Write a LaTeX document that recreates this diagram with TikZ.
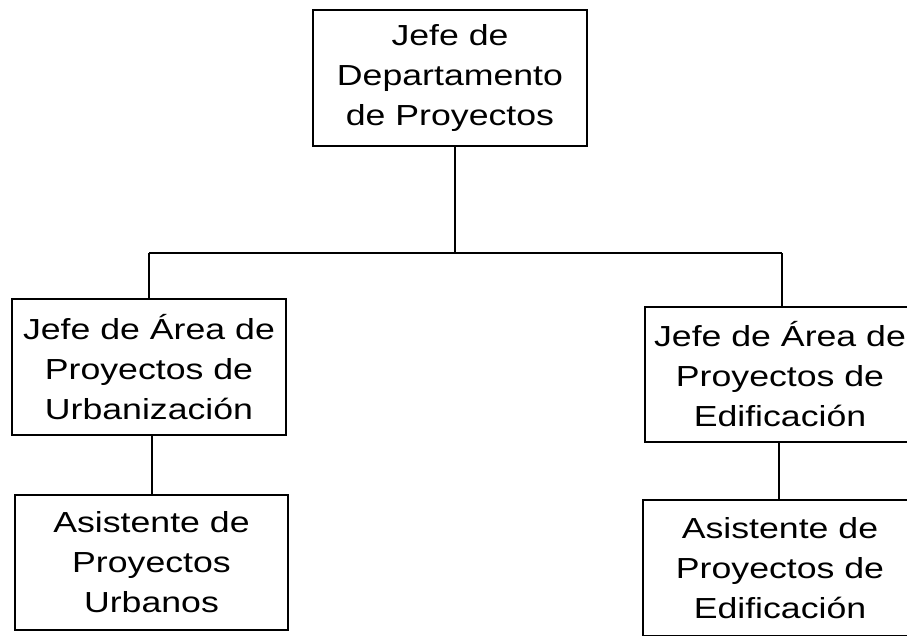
\documentclass[tikz,border=0pt]{standalone}
\usepackage{fontspec}
\setmainfont{Liberation Sans}[FakeStretch=1.23]
\begin{document}
\begin{tikzpicture}[x=1pt,y=-1pt,
  box/.style={draw=black,line width=1.6pt,rectangle,inner sep=0pt,
    minimum width=274pt,minimum height=136pt,align=center,
    font=\fontsize{29}{40}\selectfont},
  conn/.style={draw=black,line width=1.6pt}]
\useasboundingbox (0,0) rectangle (907,635);
\clip (0,0) rectangle (907,635);
\fill[white] (0,0) rectangle (907,635);
\node[box] (top) at (450,78) {Jefe de\\Departamento\\de Proyectos};
\node[box] (l1) at (149,367) {Jefe de Área de\\Proyectos de\\Urbanización};
\node[box,minimum width=273pt,minimum height=135pt] (l2) at (151.5,562.5) {Asistente de\\Proyectos\\Urbanos};
\node[box,minimum width=270pt,minimum height=135pt] (r1) at (780,374.5) {Jefe de Área de\\Proyectos de\\Edificación};
\node[box] (r2) at (780,568) {Asistente de\\Proyectos de\\Edificación};
\coordinate (j) at (455,253);
\coordinate (jl) at (149,253);
\coordinate (jr) at (782,253);
\draw[conn] (top.south -| j) -- (j);
\draw[conn] (jl) -- (jr);
\draw[conn] (jl) -- (jl |- l1.north);
\draw[conn] (jr) -- (jr |- r1.north);
\coordinate (lv) at (152,0);
\coordinate (rv) at (779,0);
\draw[conn] (lv |- l1.south) -- (lv |- l2.north);
\draw[conn] (rv |- r1.south) -- (rv |- r2.north);
\end{tikzpicture}
\end{document}
